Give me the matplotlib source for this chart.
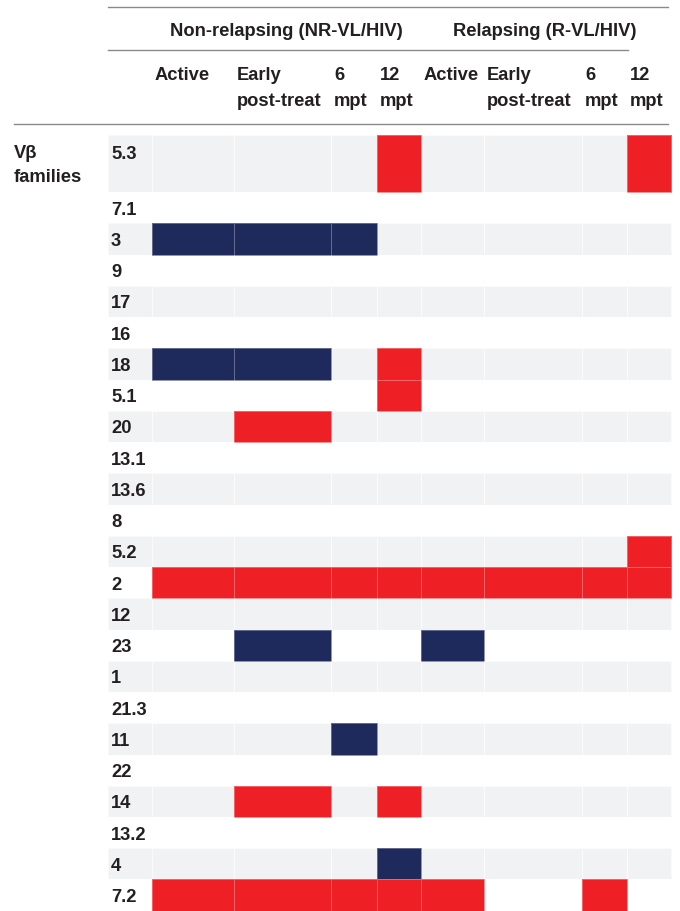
import numpy as np
import matplotlib
matplotlib.use("Agg")
import matplotlib.pyplot as plt
from matplotlib.colors import ListedColormap

# ---------------- data ----------------
groups = ["Non-relapsing (NR-VL/HIV)", "Relapsing (R-VL/HIV)"]
timepoints = [("Active", ""), ("Early", "post-treat"), ("6", "mpt"), ("12", "mpt")]
vb_families = ["5.3", "7.1", "3", "9", "17", "16", "18", "5.1", "20", "13.1", "13.6",
               "8", "5.2", "2", "12", "23", "1", "21.3", "11", "22", "14", "13.2", "4", "7.2"]
# 1 = expanded (red), -1 = contracted (navy), 0 = no change
# columns: NR Active, NR Early, NR 6, NR 12, R Active, R Early, R 6, R 12
changes = [
    [0, 0, 0, 1, 0, 0, 0, 1],     # 5.3
    [0, 0, 0, 0, 0, 0, 0, 0],     # 7.1
    [-1, -1, -1, 0, 0, 0, 0, 0],  # 3
    [0, 0, 0, 0, 0, 0, 0, 0],     # 9
    [0, 0, 0, 0, 0, 0, 0, 0],     # 17
    [0, 0, 0, 0, 0, 0, 0, 0],     # 16
    [-1, -1, 0, 1, 0, 0, 0, 0],   # 18
    [0, 0, 0, 1, 0, 0, 0, 0],     # 5.1
    [0, 1, 0, 0, 0, 0, 0, 0],     # 20
    [0, 0, 0, 0, 0, 0, 0, 0],     # 13.1
    [0, 0, 0, 0, 0, 0, 0, 0],     # 13.6
    [0, 0, 0, 0, 0, 0, 0, 0],     # 8
    [0, 0, 0, 0, 0, 0, 0, 1],     # 5.2
    [1, 1, 1, 1, 1, 1, 1, 1],     # 2
    [0, 0, 0, 0, 0, 0, 0, 0],     # 12
    [0, -1, 0, 0, -1, 0, 0, 0],   # 23
    [0, 0, 0, 0, 0, 0, 0, 0],     # 1
    [0, 0, 0, 0, 0, 0, 0, 0],     # 21.3
    [0, 0, -1, 0, 0, 0, 0, 0],    # 11
    [0, 0, 0, 0, 0, 0, 0, 0],     # 22
    [0, 1, 0, 1, 0, 0, 0, 0],     # 14
    [0, 0, 0, 0, 0, 0, 0, 0],     # 13.2
    [0, 0, 0, -1, 0, 0, 0, 0],    # 4
    [1, 1, 1, 1, 1, 0, 1, 0],     # 7.2
]

# ---------------- layout (pixels) ----------------
W, H = 680, 912
col_edges = np.array([108, 152, 234, 331, 377, 421, 484, 582, 627, 671])  # label col + 8 data cols
row_top = 136
first_row_h = 57
row_h = 31.25
row_edges = np.concatenate([[row_top, row_top + first_row_h],
                            row_top + first_row_h + row_h * np.arange(1, len(vb_families))])

RED = "#ee1f25"
NAVY = "#1f2a5c"
GRAY = "#f1f2f4"
TXT = "#231f20"
LINE = "#8a8a8a"

plt.rcParams["font.family"] = ["Liberation Sans", "DejaVu Sans"]
fs = 13.2

fig = plt.figure(figsize=(W / 100, H / 100), dpi=100)
ax = fig.add_axes([0, 0, 1, 1])
ax.set_xlim(0, W)
ax.set_ylim(H, 0)
ax.axis("off")

n_rows = len(vb_families)
# background bands (alternating gray / white)
band = np.array([[1 if i % 2 == 0 else 0] * (len(col_edges) - 1) for i in range(n_rows)])
ax.pcolormesh(col_edges, row_edges, band, cmap=ListedColormap(["white", GRAY]),
              vmin=0, vmax=1, edgecolors=(1, 1, 1, 0.6), linewidth=0.4)

# marks
vals = np.array(changes, dtype=float)
masked = np.ma.masked_equal(vals, 0)
ax.pcolormesh(col_edges[1:], row_edges, masked, cmap=ListedColormap([NAVY, RED]),
              vmin=-1, vmax=1, edgecolors=(1, 1, 1, 0.3), linewidth=0.5)

# row labels
for i, lab in enumerate(vb_families):
    if i == 0:
        y = row_edges[0] + row_h / 2 + 2.5
    else:
        y = (row_edges[i] + row_edges[i + 1]) / 2 + 1.5
    ax.text(111, y, lab, ha="left", va="center", fontsize=fs, fontweight="bold", color=TXT)

ax.text(14, 154, "Vβ", ha="left", va="center", fontsize=fs, fontweight="bold", color=TXT)
ax.text(14, 178, "families", ha="left", va="center", fontsize=fs, fontweight="bold", color=TXT)

# header lines
ax.plot([108, 668], [8, 8], color=LINE, lw=1)
ax.plot([108, 628], [51, 51], color=LINE, lw=1)
ax.plot([14, 668], [125, 125], color=LINE, lw=1)

# group headers
ax.text(286, 32, groups[0], ha="center", va="center", fontsize=fs, fontweight="bold", color=TXT)
ax.text(545, 32, groups[1], ha="center", va="center", fontsize=fs, fontweight="bold", color=TXT)

# timepoint headers
for g in range(2):
    for j, (l1, l2) in enumerate(timepoints):
        x = col_edges[1 + g * 4 + j] + 3
        ax.text(x, 75, l1, ha="left", va="center", fontsize=fs, fontweight="bold", color=TXT)
        if l2:
            ax.text(x, 101, l2, ha="left", va="center", fontsize=fs, fontweight="bold", color=TXT)

fig.savefig("out.png", dpi=100)
